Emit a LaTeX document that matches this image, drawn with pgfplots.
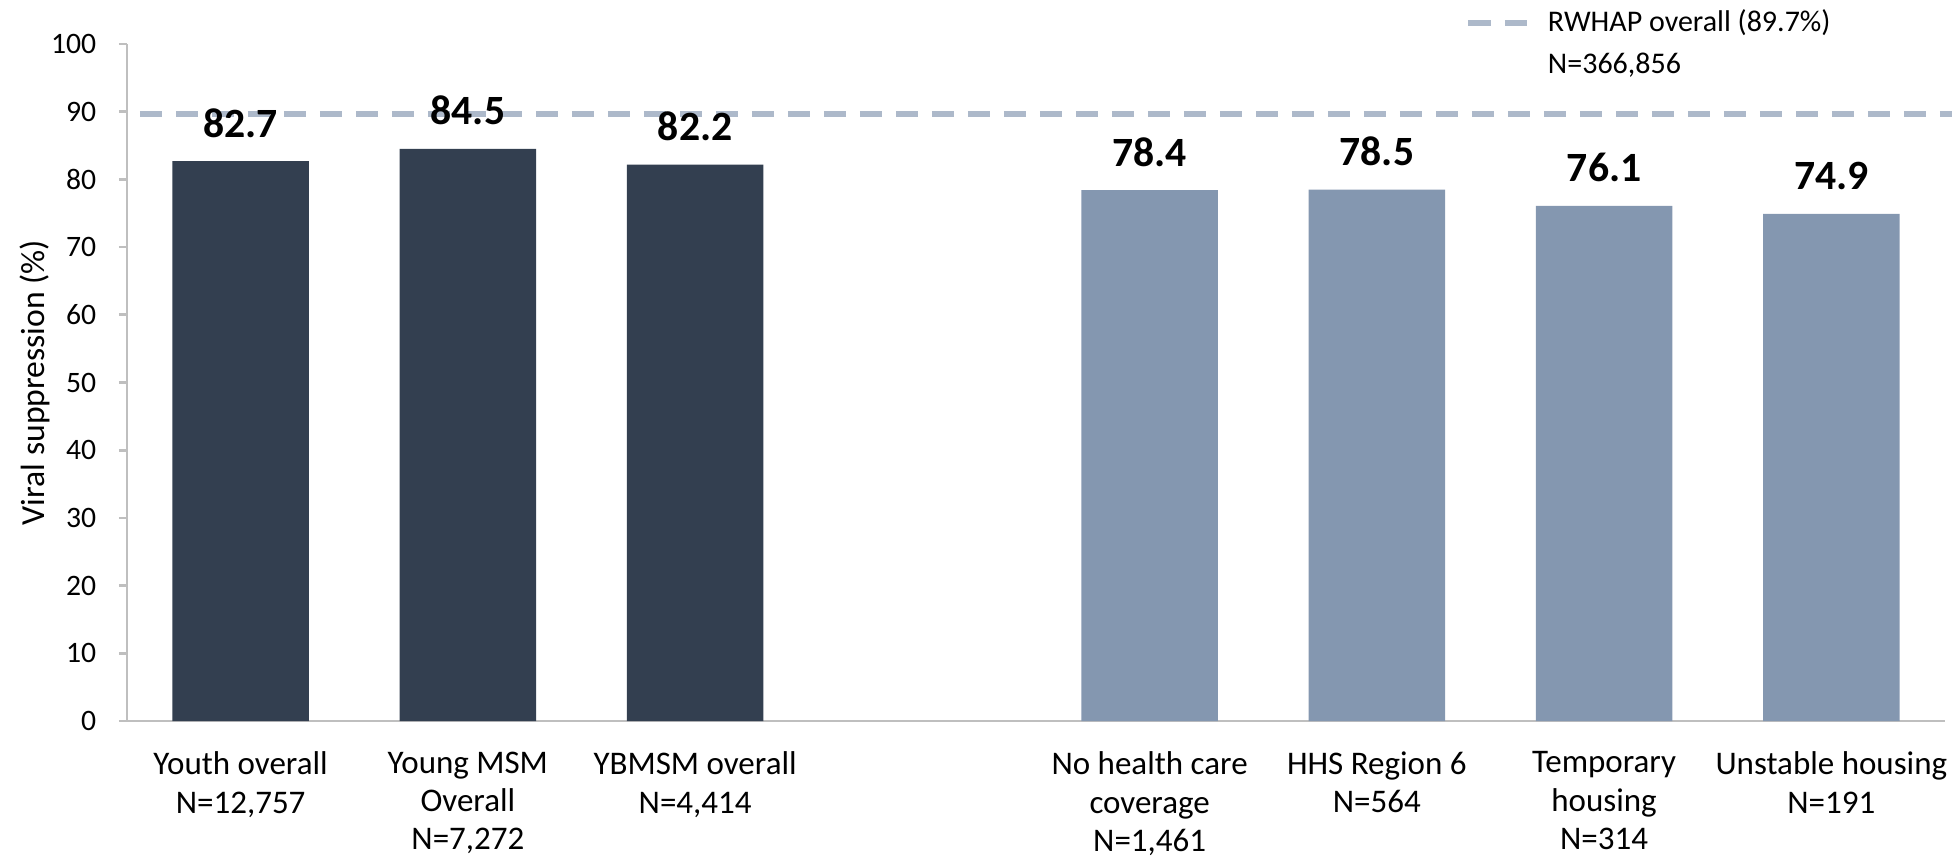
\documentclass[border=0pt]{standalone}
\usepackage{fontspec}
\setmainfont{Carlito}
\usepackage{pgfplots}
\pgfplotsset{compat=1.18}
\definecolor{darkbar}{HTML}{333F50}
\definecolor{lightbar}{HTML}{8497B0}
\definecolor{refline}{HTML}{ADB9CA}
\definecolor{axisgrey}{HTML}{BFBFBF}
\begin{document}
\begin{tikzpicture}
\begin{axis}[
    name=ax,
    scale only axis,
    width=545.4pt,
    height=203.1pt,
    xmin=-0.5, xmax=7.5,
    ymin=0, ymax=100,
    clip=false,
    axis x line*=bottom,
    axis y line*=left,
    axis line style={-, draw=axisgrey, line width=0.8pt},
    xtick={0,1,2,4,5,6,7},
    xticklabels={{Youth overall\\N=12,757},{Young MSM\\Overall\\N=7,272},{YBMSM overall\\N=4,414},{No health care\\coverage\\N=1,461},{HHS Region 6\\N=564},{Temporary\\housing\\N=314},{Unstable housing\\N=191}},
    xticklabel style={align=center, font=\fontsize{9.9}{11.5}\selectfont, yshift=-3.3pt},
    x tick style={draw=none},
    ytick={0,10,...,100},
    yticklabel style={font=\fontsize{8.9}{10.5}\selectfont, xshift=-3.3pt},
    y tick style={draw=axisgrey, line width=0.8pt},
    tick align=outside,
    major tick length=2.4pt,
    /pgf/number format/assume math mode=true,
    ylabel={Viral suppression (\%)},
    ylabel style={font=\fontsize{10.1}{12}\selectfont, at={(axis description cs:-0.0506,0.5)}, anchor=center},
]
\addplot[ybar, bar shift=0pt, bar width=0.6, fill=darkbar, draw=none,
    nodes near coords,
    nodes near coords style={font=\bfseries\fontsize{12.5}{14}\selectfont, anchor=south, inner sep=0pt, yshift=6.9pt, /pgf/number format/.cd, fixed, fixed zerofill, precision=1}]
    coordinates {(0,82.7) (1,84.5) (2,82.2)};
\addplot[ybar, bar shift=0pt, bar width=0.6, fill=lightbar, draw=none,
    nodes near coords,
    nodes near coords style={font=\bfseries\fontsize{12.5}{14}\selectfont, anchor=south, inner sep=0pt, yshift=6.9pt, /pgf/number format/.cd, fixed, fixed zerofill, precision=1}]
    coordinates {(4,78.4) (5,78.5) (6,76.1) (7,74.9)};
\addplot[refline, line width=1.9pt, dash pattern=on 6.6pt off 4.2pt, forget plot]
    coordinates {(-0.443,89.7) (7.53,89.7)};
% legend for the reference line
\draw[refline, line width=1.9pt, dash pattern=on 6.9pt off 4.2pt] (axis cs:5.40,103.1) -- (axis cs:5.66,103.1);
\node[anchor=west, inner sep=0pt, font=\fontsize{9}{10.8}\selectfont] at (axis cs:5.75,103.1) {RWHAP overall (89.7\%)};
\node[anchor=west, inner sep=0pt, font=\fontsize{9}{10.8}\selectfont] at (axis cs:5.75,96.9) {N=366,856};
\end{axis}
\pgfresetboundingbox
\path ([shift={(-38.1pt,-41.4pt)}]ax.south west) rectangle ([shift={(2.7pt,13.2pt)}]ax.north east);
\end{tikzpicture}
\end{document}
